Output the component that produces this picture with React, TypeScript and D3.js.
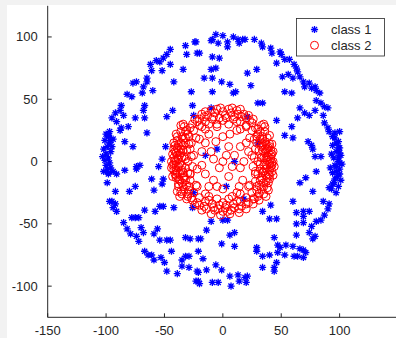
import React, { useEffect, useRef } from 'react';
import * as d3 from 'd3';

// class 1 (blue asterisks) as [x, y]
const class1: [number, number][] = [
  [-32, 93], [-24, 96], [-22, 87], [-31, 86], [-45, 90], [-48, 86], [-51, 83], [-54, 80], [-52, 73],
  [-45, 78], [-57, 81], [-62, 78], [-61, 73], [-34, 74], [-42, 64], [-65, 67], [-65, 64], [-74, 64],
  [-77, 63], [-68, 60], [-60, 57], [-69, 55], [-27, 56], [-82, 54], [-78, 52], [-67, 45], [-68, 41],
  [-75, 35], [-67, 35], [-87, 45], [-88, 41], [-92, 39], [-95, 35], [-91, 32], [-85, 37], [-87, 27],
  [-81, 28], [-88, 25], [-98, 21], [-96, 17], [-84, 16], [-77, 12], [-65, 23], [-26, 45], [-25, 37],
  [-43, 41], [-48, 36], [-49, 12], [-52, 2], [-71, -3], [-74, -4], [-55, -4],
  [-100, 22], [-98, 20], [-101, 17], [-97, 15], [-99, 12], [-102, 10], [-96, 8], [-100, 6], [-98, 3],
  [-101, 1], [-97, -1], [-100, -3], [-99, -6], [-96, -5], [-102, -8], [-98, -10], [-95, 12], [-94, 18],
  [-103, 4], [-97, 24],
  [-98, -9], [-94, -8], [-91, -10], [-84, -7], [-74, -6], [-99, -17], [-92, -24], [-95, -32], [-92, -34],
  [-94, -37], [-91, -40], [-97, -32], [-80, -24], [-75, -20], [-61, -14], [-51, -14], [-52, -18],
  [-59, -23], [-54, -36], [-51, -36], [-42, -37], [-67, -39], [-58, -40], [-75, -45], [-78, -45],
  [-72, -45], [-85, -49], [-82, -54], [-79, -58], [-74, -60], [-72, -64], [-70, -53], [-68, -57],
  [-59, -58], [-56, -54], [-54, -63], [-48, -63], [-45, -63], [-32, -61], [-28, -62], [-21, -62],
  [-67, -72], [-64, -75], [-61, -75], [-59, -79], [-53, -77], [-50, -81], [-44, -72], [-48, -88],
  [-39, -90], [-35, -79], [-32, -76], [-29, -76], [-35, -84], [-29, -85], [-22, -88], [-23, -96],
  [-21, -96], [-26, -37],
  [-6, 102], [0, 101], [-9, 98], [-10, 97], [-4, 95], [4, 96], [4, 92], [9, 100], [13, 98], [17, 98],
  [19, 98], [14, 95], [27, 98], [33, 95], [34, 92], [41, 91], [42, 87], [49, 88], [50, 86], [46, 79],
  [53, 82], [57, 82], [61, 78], [63, 75], [64, 72], [56, 70], [51, 68], [60, 67], [66, 68], [69, 64],
  [70, 60], [74, 63], [76, 59], [79, 60], [80, 57], [83, 55], [80, 49], [84, 47], [87, 44], [90, 43],
  [79, 41], [86, 37], [87, 31], [90, 27], [91, 24], [96, 23], [100, 24], [94, 20], [97, 15], [99, 11],
  [100, 7], [99, 3], [100, -1], [97, -4], [53, 56], [59, 55], [66, 43], [70, 39], [74, 37], [64, 35],
  [59, 28], [53, 21], [60, 19], [73, 16], [76, 13], [77, 10], [79, 4], [84, 4], [46, 33], [-10, 74],
  [-6, 75], [-16, 67], [-9, 67], [-1, 64], [-23, 96], [-20, 87], [-9, 84], [-3, 83], [6, 62], [11, 56],
  [9, 55], [-9, 56], [21, 71], [29, 74], [24, 61], [30, 47], [34, 47], [-10, 43], [21, 36],
  [96, 19], [99, 16], [94, 13], [100, 11], [97, 8], [101, 5], [95, 3], [99, 0], [96, -3], [100, -6],
  [94, -9], [98, -12], [101, -15], [95, -17], [99, -20], [93, -22], [97, -25], [92, -5], [102, -2], [93, 6],
  [97, -8], [100, -10], [96, -14], [94, -18], [91, -21], [80, -8], [71, -13], [66, -17], [77, -24],
  [86, -32], [91, -34], [90, -38], [87, -43], [84, -47], [60, -32], [63, -41], [69, -40], [74, -40],
  [69, -44], [69, -49], [80, -48], [76, -52], [74, -57], [79, -60], [77, -62], [63, -50], [63, -59],
  [54, -67], [60, -68], [66, -70], [69, -71], [61, -76], [64, -76], [69, -77], [71, -73], [47, -67],
  [49, -69], [47, -73], [53, -75], [46, -81], [44, -85], [44, -88], [34, -85], [29, -69], [29, -72],
  [34, -76], [40, -75], [44, -61], [41, -35], [34, -40], [40, -46], [46, -46], [0, -47], [4, -47],
  [-10, -48], [-14, -55], [-19, -62], [6, -59], [10, -57], [10, -68], [-1, -66], [-21, -72], [-17, -78],
  [-6, -83], [-1, -87], [-14, -87], [-21, -89], [-20, -98], [-9, -97], [-4, -97], [6, -92], [13, -91],
  [14, -96], [7, -100], [19, -93], [21, -92], [20, -97],
  [10, 0], [3, -20], [-15, 5], [-25, -25], [30, 15], [-5, 10], [18, -30],
];

// class 2 (red circles)
const class2: [number, number][] = [
  [40, 0], [37, 3], [41, -4], [39, 7], [37, 14], [34, 20], [30, 26], [25, 31], [20, 35], [13, 38],
  [7, 39], [0, 40], [-7, 39], [-13, 37], [-20, 34], [-26, 30], [-31, 25], [-35, 20], [-38, 13],
  [-40, 7], [-40, 0], [-40, -7], [-38, -14], [-34, -20], [-30, -26], [-26, -31], [-20, -35], [-14, -38],
  [-7, -39], [0, -40], [7, -39], [14, -38], [20, -34], [26, -30], [31, -26], [35, -20], [38, -13], [40, -7],
  [35, 3], [34, 9], [32, 15], [29, 20], [25, 25], [20, 29], [15, 32], [9, 34], [3, 35], [-3, 35],
  [-9, 34], [-15, 32], [-20, 29], [-25, 25], [-29, 20], [-32, 15], [-34, 9], [-35, 3], [-35, -3],
  [-34, -9], [-32, -15], [-29, -20], [-25, -25], [-20, -29], [-15, -32], [-9, -34], [-3, -35], [3, -35],
  [9, -34], [15, -32], [20, -29], [25, -25], [29, -20], [32, -15], [34, -9], [35, -3],
  [30, 0], [28, 10], [23, 19], [15, 26], [5, 30], [-5, 30], [-15, 26], [-23, 19], [-28, 10], [-30, 0],
  [-28, -10], [-23, -19], [-15, -26], [-5, -30], [5, -30], [15, -26], [23, -19], [28, -10],
  [0, 0], [10, 5], [-10, 8], [5, -12], [-8, -15], [15, -5], [-18, -3], [20, 15], [-20, 18], [12, 25],
  [-12, 22], [22, -20], [-22, -20], [0, 20], [0, -22], [25, 5], [-25, 5], [8, -28], [-5, 28], [17, -15],
  [-15, -10], [28, -8], [-28, -10], [5, 12], [-3, -5], [12, -25], [-12, -28], [20, 28], [-18, 28],
  [27, 18], [-27, 15],
  [-42, 3], [-41, -10], [-43, -3], [-39, 17], [-36, -24], [41, 5], [42, -3], [40, 14], [39, -17],
  [43, 8], [-38, -18], [-42, 10], [36, 28], [-34, 30], [5, 42], [12, 41], [-5, 42], [18, 38], [-15, 40],
  [-37, 5], [-38, -4], [-36, 10], [-37, -10], [38, 4], [37, -6], [36, 10], [37, -11], [-33, -12],
  [33, 12], [-32, 2], [32, -2],
  [-44, 0], [-43, 6], [-42, -7], [-41, 13], [-40, -13], [-39, 20], [-38, -20], [-36, 24], [-35, -26],
  [-33, 28], [-31, -30], [-38, 2], [-37, -2], [-36, 7], [-35, -7], [-34, 13], [-33, -13], [-32, 19],
  [-31, -19], [-30, 22], [-29, -23], [-33, 4], [-32, -5], [-31, 9], [-30, -9], [-29, 14], [-28, -15],
  [-27, 4], [-26, -4], [-44, -5], [-43, -12], [-42, 15], [-40, 22], [-39, -24], [-37, -28], [-36, 29],
  [43, 0], [42, 6], [42, -8], [40, 12], [40, -14], [38, 19], [38, -21], [36, 24], [35, -26], [33, 29],
  [31, -31], [38, 1], [37, -3], [36, 7], [35, -8], [34, 13], [33, -13], [32, 18], [31, -19], [30, 22],
  [29, -23], [33, 3], [32, -6], [31, 9], [30, -10], [29, 15], [28, -16], [27, 3], [26, -4], [44, -4],
  [43, -11], [42, 14], [40, 21], [39, -23], [37, -28], [35, 30],
  [-10, 41], [-2, 43], [8, 43], [15, 42], [22, 37], [-18, 38], [-24, 34], [26, 34], [2, 37], [-8, 36],
  [10, 36], [-12, 30], [12, 32], [0, 33],
  [-10, -42], [-2, -43], [6, -42], [14, -41], [20, -38], [-18, -39], [-24, -35], [26, -34], [2, -37],
  [-8, -37], [10, -37], [-12, -31], [12, -32], [0, -33], [-4, -38], [4, -40],
  [-8, 2], [8, -4], [-15, 15], [15, 12], [-5, -20], [6, 22], [18, 0], [-18, 8], [-12, -20], [14, -20],
  [22, 8], [-22, -6], [3, 5], [-6, 16],
  [-41, 1], [-40, -3], [-39, 5], [-39, -9], [-38, 9], [-37, -15], [-36, 15], [-35, -17], [-34, 18],
  [-33, -22], [-32, 24], [-30, -28], [-28, 27], [-27, -29], [-41, 8], [-42, -2], [-39, 11], [-40, -11],
  [41, 2], [40, -2], [39, 4], [39, -10], [38, 10], [37, -16], [36, 16], [35, -17], [34, 18], [33, -22],
  [32, 24], [30, -28], [28, 27], [27, -30], [41, 9], [42, -1], [39, 11], [40, -11],
  [-22, 32], [22, -33], [-22, -33], [23, 33], [-16, 36], [16, -36], [-16, -36], [16, 36],
];

const xTicks = [-150, -100, -50, 0, 50, 100];
const yTicks = [-100, -50, 0, 50, 100];
const legendLabels = ['class 1', 'class 2'];

const W = 396;
const H = 338;
const ink = '#262626';
const font = '"Liberation Sans", Arial, sans-serif';

export default function App() {
  const ref = useRef<SVGSVGElement | null>(null);

  useEffect(() => {
    document.body.style.margin = '0';
    const svg = d3.select(ref.current);
    svg.selectAll('*').remove();

    const x = d3.scaleLinear().domain([-150, 150]).range([47.7, 398]);
    const y = d3.scaleLinear().domain([-125, 125]).range([317.3, 5.8]);

    svg.append('rect').attr('width', W).attr('height', H).attr('fill', '#f2f2f2');
    svg.append('rect').attr('x', 7).attr('y', 5).attr('width', W - 7).attr('height', H - 5).attr('fill', '#fff');

    const star = (s: number) =>
      `M${-s},0L${s},0M0,${-s}L0,${s}M${-s * 0.72},${-s * 0.72}L${s * 0.72},${s * 0.72}M${-s * 0.72},${s * 0.72}L${s * 0.72},${-s * 0.72}`;

    svg.append('g')
      .selectAll('path')
      .data(class1)
      .enter()
      .append('path')
      .attr('transform', d => `translate(${x(d[0])},${y(d[1])})`)
      .attr('d', star(3.6))
      .attr('stroke', '#0000ff')
      .attr('stroke-width', 1.3)
      .attr('fill', 'none');

    svg.append('g')
      .selectAll('circle')
      .data(class2)
      .enter()
      .append('circle')
      .attr('cx', d => x(d[0]))
      .attr('cy', d => y(d[1]))
      .attr('r', 4)
      .attr('stroke', '#ff0000')
      .attr('stroke-width', 1)
      .attr('fill', 'none');

    // axes: left and bottom only, ticks pointing inward
    const axes = svg.append('g').attr('stroke', ink).attr('stroke-width', 1).attr('fill', 'none');
    axes.append('line').attr('x1', x(-150)).attr('x2', x(-150)).attr('y1', y(125)).attr('y2', y(-125));
    axes.append('line').attr('x1', x(-150)).attr('x2', W).attr('y1', y(-125)).attr('y2', y(-125));

    axes.selectAll('.xt').data(xTicks).enter().append('line')
      .attr('x1', d => x(d)).attr('x2', d => x(d))
      .attr('y1', y(-125)).attr('y2', y(-125) - 4);
    axes.selectAll('.yt').data(yTicks).enter().append('line')
      .attr('x1', x(-150)).attr('x2', x(-150) + 4)
      .attr('y1', d => y(d)).attr('y2', d => y(d));

    svg.selectAll('.xl').data(xTicks).enter().append('text')
      .attr('x', d => x(d))
      .attr('y', y(-125) + 18)
      .attr('text-anchor', 'middle')
      .attr('font-family', font)
      .attr('font-size', 13)
      .attr('fill', ink)
      .text(d => d);
    svg.selectAll('.yl').data(yTicks).enter().append('text')
      .attr('x', x(-150) - 10)
      .attr('y', d => y(d) + 4.5)
      .attr('text-anchor', 'end')
      .attr('font-family', font)
      .attr('font-size', 13)
      .attr('fill', ink)
      .text(d => d);

    // legend
    const lg = svg.append('g').attr('transform', 'translate(296.5,18.5)');
    lg.append('rect').attr('width', 88).attr('height', 37.5)
      .attr('fill', '#fff').attr('stroke', ink).attr('stroke-width', 0.8);
    legendLabels.forEach((label, i) => {
      const cy = 11 + i * 15.8;
      if (i === 0) {
        lg.append('path').attr('transform', `translate(18,${cy})`).attr('d', star(3.6))
          .attr('stroke', '#0000ff').attr('stroke-width', 1.3).attr('fill', 'none');
      } else {
        lg.append('circle').attr('cx', 18).attr('cy', cy).attr('r', 4)
          .attr('stroke', '#ff0000').attr('fill', 'none');
      }
      lg.append('text').attr('x', 34.5).attr('y', cy + 4.6)
        .attr('font-family', font).attr('font-size', 13).attr('fill', ink)
        .text(label);
    });
  }, []);

  return <svg ref={ref} width={W} height={H} style={{ display: 'block' }} />;
}
